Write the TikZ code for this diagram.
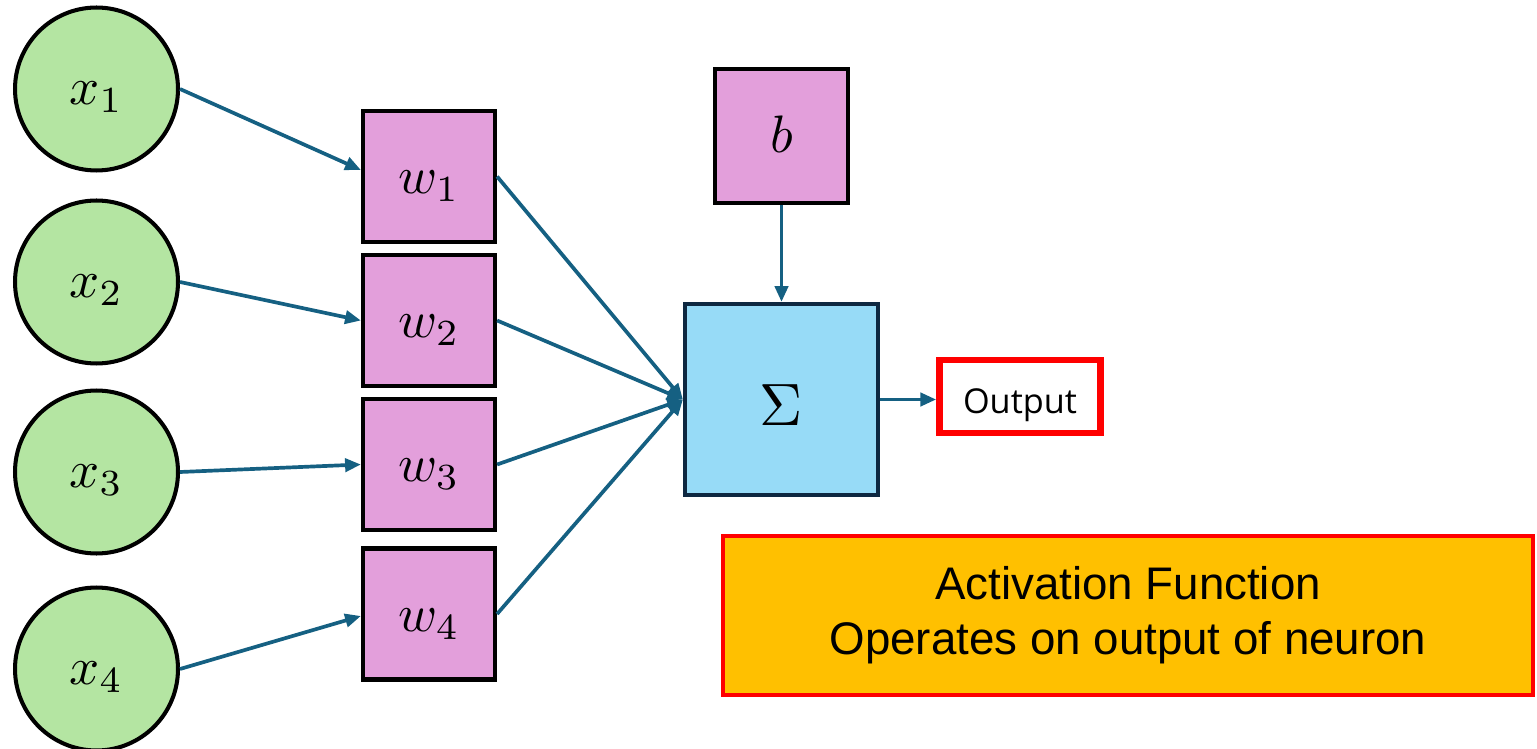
\documentclass[tikz,border=0pt]{standalone}
\usepackage{fontspec}
\newfontfamily\opensans{Open Sans}
\newfontfamily\lsans{Liberation Sans}
\usetikzlibrary{arrows.meta}
\definecolor{ingreen}{HTML}{B4E5A2}
\definecolor{wpink}{HTML}{E39FDB}
\definecolor{sblue}{HTML}{97DBF7}
\definecolor{arrowblue}{HTML}{156082}
\definecolor{sborder}{HTML}{0E2841}
\definecolor{actorange}{HTML}{FFC000}
% place content with its baseline a given distance below the node centre
\newcommand{\atbase}[2]{\raisebox{-#1}[0pt][0pt]{#2}}
\begin{document}
\begin{tikzpicture}[x=0.02cm,y=-0.02cm,
  inp/.style={circle,draw=black,line width=2.3pt,fill=ingreen,minimum size=3.26cm,inner sep=0pt},
  wbox/.style={rectangle,draw=black,line width=2.4pt,fill=wpink,minimum width=2.64cm,minimum height=2.62cm,inner sep=0pt},
  sumbox/.style={rectangle,draw=sborder,line width=2.4pt,fill=sblue,minimum width=3.86cm,minimum height=3.82cm,inner sep=0pt},
  outbox/.style={rectangle,draw=red,line width=3.8pt,fill=white,minimum width=3.22cm,minimum height=1.46cm,inner sep=0pt,font=\opensans\fontsize{19.5}{23}\selectfont},
  actbox/.style={rectangle,draw=red,line width=2pt,fill=actorange,minimum width=16.2cm,minimum height=3.18cm,inner sep=0pt,align=center,font=\lsans\fontsize{26}{33.5}\selectfont},
  conn/.style={draw=arrowblue,line width=2.1pt,-{Triangle[length=9pt,width=7.5pt]}}
]
\useasboundingbox (0,0) rectangle (1537,749);

\node[inp] (c1) at (96.5,89) {\atbase{0.318cm}{\scalebox{3}{$x_1$}}};
\node[inp] (c2) at (96.5,282) {\atbase{0.318cm}{\scalebox{3}{$x_2$}}};
\node[inp] (c3) at (96.5,472) {\atbase{0.318cm}{\scalebox{3}{$x_3$}}};
\node[inp] (c4) at (96.5,669) {\atbase{0.318cm}{\scalebox{3}{$x_4$}}};

\node[wbox] (w1) at (429,176.5) {\atbase{0.35cm}{\scalebox{3}{$w_1$}}};
\node[wbox] (w2) at (429,320.5) {\atbase{0.35cm}{\scalebox{3}{$w_2$}}};
\node[wbox] (w3) at (429,464.5) {\atbase{0.35cm}{\scalebox{3}{$w_3$}}};
\node[wbox] (w4) at (429,614) {\atbase{0.35cm}{\scalebox{3}{$w_4$}}};

\node[wbox,minimum width=2.66cm,minimum height=2.68cm] (b) at (781.5,136) {\atbase{0.34cm}{\scalebox{3}{$b$}}};
\node[sumbox] (S) at (781.5,399.5) {\atbase{0.52cm}{\scalebox{3.4}{$\Sigma$}}};
\node[outbox] (out) at (1020,396.5) {\atbase{0.35cm}{Output}};
\node[actbox] (act) at (1128,615.5) {\raisebox{-0.08cm}{Activation Function}\\Operates on output of neuron};

\draw[conn] (c1.east) -- ([yshift=0.13cm]w1.west);
\draw[conn] (c2.east) -- (w2.west);
\draw[conn] (c3.east) -- (w3.west);
\draw[conn] (c4.east) -- ([yshift=-0.04cm]w4.west);

\draw[conn] (w1.east) -- (S.west);
\draw[conn] (w2.east) -- (S.west);
\draw[conn] (w3.east) -- (S.west);
\draw[conn] (w4.east) -- (S.west);

\draw[conn] (b.south) -- (S.north);
\draw[conn] (S.east) -- (S.east -| out.west);
\end{tikzpicture}
\end{document}
